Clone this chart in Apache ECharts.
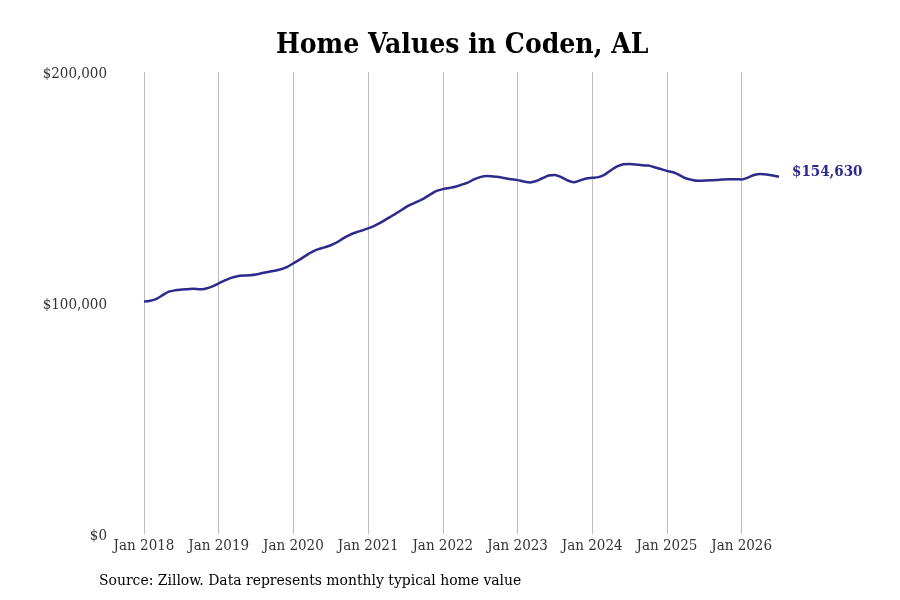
<!DOCTYPE html>
<html>
  <head>
    <meta charset="utf-8" />
    <title></title>
    <style>
      body {
        margin: 0;
        padding: 0;
        background: #fff;
      }
      #chart {
        width: 900px;
        height: 600px;
      }
    </style>
    <script src="https://cdn.jsdelivr.net/npm/echarts@6/dist/echarts.min.js"></script>
  </head>

  <body>
    <div id="chart"></div>
  </body>
  <script>
    // monthly typical home value, Jan 2018 .. Jul 2026 (thousands of $)
    const startYear = 2018;
    const values2018 = [100.6, 101.0, 101.8, 103.4, 104.9, 105.5, 105.8, 106.0, 106.2, 105.9, 106.3, 107.2];
    const values2019 = [108.5, 109.8, 110.9, 111.6, 111.9, 112.0, 112.3, 113.0, 113.5, 114.0, 114.6, 115.6];
    const values2020 = [117.2, 118.8, 120.5, 122.1, 123.3, 124.1, 125.0, 126.3, 128.0, 129.4, 130.5, 131.4];
    const values2021 = [132.3, 133.4, 134.8, 136.4, 138.0, 139.6, 141.4, 142.8, 144.0, 145.3, 147.0, 148.5];
    const values2022 = [149.3, 149.8, 150.3, 151.2, 152.1, 153.5, 154.5, 155.0, 154.8, 154.5, 154.0, 153.6];
    const values2023 = [153.2, 152.6, 152.2, 152.8, 154.0, 155.2, 155.4, 154.5, 153.1, 152.3, 153.0, 153.9];
    const values2024 = [154.2, 154.5, 155.6, 157.5, 159.1, 160.1, 160.2, 160.0, 159.6, 159.5, 158.8, 158.0];
    const values2025 = [157.2, 156.6, 155.4, 154.0, 153.3, 152.9, 153.0, 153.1, 153.2, 153.5, 153.6, 153.6];
    const values2026 = [153.5, 154.3, 155.4, 155.8, 155.6, 155.2, 154.63];
    const yTicks = [0, 100000, 200000];
    const lastLabel = "$154,630";

    const monthNames = ["Jan", "Feb", "Mar", "Apr", "May", "Jun", "Jul", "Aug", "Sep", "Oct", "Nov", "Dec"];
    const values = [].concat(values2018, values2019, values2020, values2021, values2022,
      values2023, values2024, values2025, values2026).map((v) => Math.round(v * 1000));
    const categories = values.map((v, i) => monthNames[i % 12] + " " + (startYear + Math.floor(i / 12)));

    const font = "'DejaVu Serif Condensed', 'DejaVu Serif', serif";
    const lineColor = "#2e2a8c";
    const isJan = (idx) => idx % 12 === 0;

    const myChart = echarts.init(document.getElementById("chart"));
    myChart.setOption({
      animation: false,
      title: {
        text: "Home Values in Coden, AL",
        left: 271,
        top: 27,
        textStyle: { fontFamily: font, fontSize: 28, fontWeight: "bold", color: "#000" },
      },
      grid: { left: 144, right: 121, top: 72, bottom: 66 },
      xAxis: {
        type: "category",
        data: categories,
        boundaryGap: false,
        axisLine: { show: false },
        axisTick: { show: false },
        axisLabel: {
          interval: isJan,
          margin: 5,
          fontFamily: font,
          fontSize: 15,
          color: "#333",
        },
        splitLine: { show: true, interval: isJan, lineStyle: { color: "#bdbdbd", width: 1 } },
      },
      yAxis: {
        type: "value",
        min: yTicks[0],
        max: yTicks[yTicks.length - 1],
        interval: yTicks[1] - yTicks[0],
        axisLine: { show: false },
        axisTick: { show: false },
        splitLine: { show: false },
        axisLabel: {
          margin: 37,
          fontFamily: font,
          fontSize: 15,
          color: "#333",
          verticalAlign: "middle",
          formatter: (v) => "{a|$" + v.toLocaleString("en-US") + "}",
          rich: {
            a: { fontFamily: font, fontSize: 15, color: "#333", padding: [4, 0, 0, 0] },
          },
        },
      },
      series: [
        {
          type: "line",
          data: values,
          smooth: 0.3,
          symbol: "none",
          lineStyle: { color: lineColor, width: 2.5 },
          endLabel: {
            show: true,
            formatter: () => lastLabel,
            distance: 13,
            fontFamily: font,
            fontSize: 15,
            fontWeight: "bold",
            color: lineColor,
            offset: [0, -5],
          },
        },
      ],
      graphic: [
        {
          type: "text",
          left: 99,
          top: 573,
          style: {
            text: "Source: Zillow. Data represents monthly typical home value",
            font: "15.5px " + font,
            fill: "#000",
          },
        },
      ],
    });
  </script>
</html>
